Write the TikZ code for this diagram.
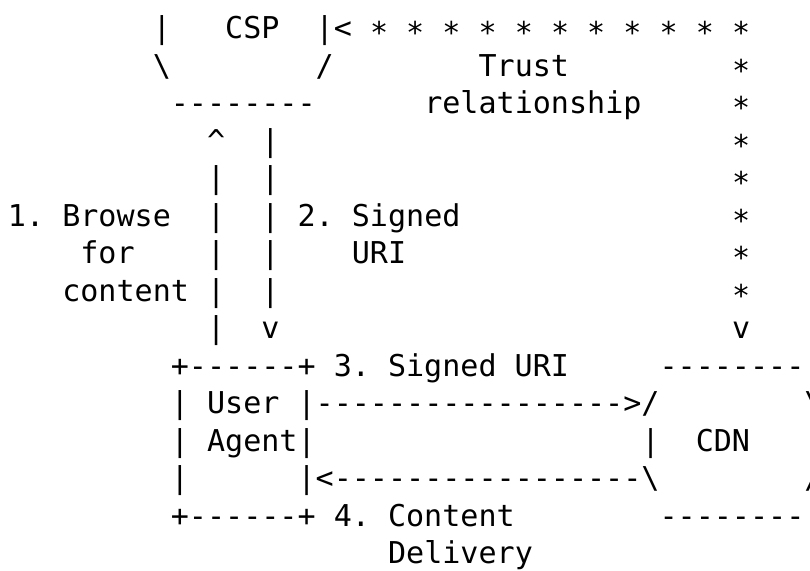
\documentclass[tikz,border=0pt]{standalone}
\usepackage{fontspec}
\setmonofont{DejaVu Sans Mono}
\newcommand{\lowstar}{\raisebox{-0.18em}{*}}

\begin{document}
\begin{tikzpicture}[x=9.05pt, y=-18.75pt,
ascii/.style={anchor=base west, inner sep=0pt, outer sep=0pt,
  font=\ttfamily\fontsize{15.03pt}{18.75pt}\selectfont}]

\clip (-0.442,-1.027) rectangle (44.31,14.173);

% CSP box
\node [ascii] (cspL) at (8,0) {|};
\node [ascii] (csp) at (12,0) {CSP};
\node [ascii] (cspR) at (17,0) {|<};
\node [ascii] (cspSW) at (8,1) {\textbackslash};
\node [ascii] (cspSE) at (17,1) {/};
\node [ascii] (cspBot) at (9,2) {--------};

% trust relationship
\foreach \c in {20,22,...,40}
  \node [ascii] (trustTop\c) at (\c,0) {\lowstar};
\foreach \r in {1,...,7}
  \node [ascii] (trustSide\r) at (40,\r) {\lowstar};
\node [ascii] (trustDown) at (40,8) {v};
\node [ascii] (trust) at (26,1) {Trust};
\node [ascii] (relation) at (23,2) {relationship};

% steps 1 and 2
\node [ascii] (upHead) at (11,3) {\textasciicircum};
\foreach \r in {4,...,8}
  \node [ascii] (up\r) at (11,\r) {|};
\foreach \r in {3,...,7}
  \node [ascii] (down\r) at (14,\r) {|};
\node [ascii] (downHead) at (14,8) {v};
\node [ascii] (browse) at (0,5) {1. Browse};
\node [ascii] (browseFor) at (4,6) {for};
\node [ascii] (browseContent) at (3,7) {content};
\node [ascii] (signed) at (16,5) {2. Signed};
\node [ascii] (signedUri) at (19,6) {URI};

% user agent
\node [ascii] (uaTop) at (9,9) {+------+ 3. Signed URI};
\node [ascii] (uaL1) at (9,10) {|};
\node [ascii] (uaUser) at (11,10) {User};
\node [ascii] (uaReq) at (16,10) {|----------------->/};
\node [ascii] (uaAgent) at (9,11) {| Agent|};
\node [ascii] (uaL3) at (9,12) {|};
\node [ascii] (uaResp) at (16,12) {|<-----------------\textbackslash};
\node [ascii] (uaBot) at (9,13) {+------+ 4. Content};
\node [ascii] (delivery) at (21,14) {Delivery};

% CDN box
\node [ascii] (cdnTop) at (36,9) {--------};
\node [ascii] (cdnNE) at (44,10) {\textbackslash};
\node [ascii] (cdnL) at (35,11) {|};
\node [ascii] (cdn) at (38,11) {CDN};
\node [ascii] (cdnR) at (44,11) {|};
\node [ascii] (cdnSE) at (44,12) {/};
\node [ascii] (cdnBot) at (36,13) {--------};
\end{tikzpicture}
\end{document}
